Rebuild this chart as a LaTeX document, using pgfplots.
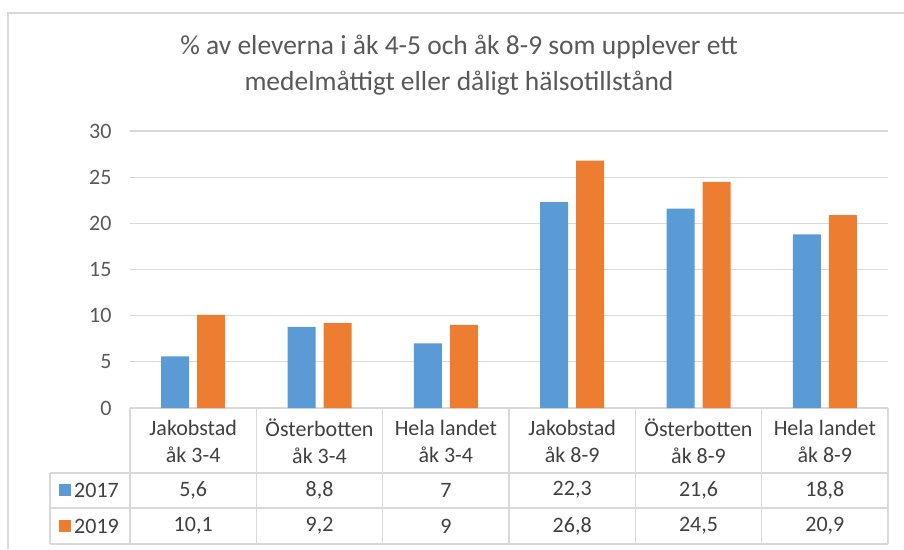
\documentclass[border=0pt]{standalone}
\usepackage{pgfplots}
\pgfplotsset{compat=1.18}
\usepackage{fontspec}
\setmainfont{Carlito}
\definecolor{cblue}{HTML}{5B9BD5}
\definecolor{corange}{HTML}{ED7D31}
\definecolor{gridc}{HTML}{D9D9D9}
\definecolor{tickc}{HTML}{595959}
\definecolor{textc}{HTML}{404040}
\begin{document}
\begin{tikzpicture}[x=1pt,y=1pt]
\draw[gridc, line width=1.2pt] (8,-549) -- (8,-13) -- (904,-13);
\node[text=tickc, font=\fontsize{27.5}{36}\selectfont, align=center] at (459,-65)
  {\% av eleverna i åk 4-5 och åk 8-9 som upplever ett\\medelmåttigt eller dåligt hälsotillstånd};
\begin{axis}[at={(130pt,-408pt)}, anchor=south west, scale only axis,
  width=758pt, height=277pt,
  ybar=8pt, bar width=28pt,
  xmin=-0.5, xmax=5.5, ymin=0, ymax=30,
  ytick={0,5,...,30},
  xtick={0,1,2,3,4,5},
  xticklabels={{Jakobstad\\åk 3-4},{Österbotten\\åk 3-4},{Hela landet\\åk 3-4},{Jakobstad\\åk 8-9},{Österbotten\\åk 8-9},{Hela landet\\åk 8-9}},
  axis line style={draw=none},
  major tick length=0pt,
  ymajorgrids, grid style={gridc, line width=1.2pt},
  /pgf/number format/assume math mode=true,
  yticklabel style={font=\fontsize{22}{25}\selectfont, text=tickc, xshift=-15pt},
  xticklabel style={font=\fontsize{22}{27}\selectfont, text=textc, align=center, anchor=center, yshift=-33pt},
  clip=false,
]
\addplot[fill=cblue, draw=none] coordinates {(0,5.6) (1,8.8) (2,7) (3,22.3) (4,21.6) (5,18.8)};
\addplot[fill=corange, draw=none] coordinates {(0,10.1) (1,9.2) (2,9) (3,26.8) (4,24.5) (5,20.9)};
\end{axis}
\draw[gridc, line width=1.2pt] (50,-473) -- (888,-473) (50,-508) -- (888,-508) (50,-544) -- (888,-544) (50,-473) -- (50,-544);
\foreach \x in {130,256.33,382.67,509,635.33,761.67,888} \draw[gridc, line width=1.2pt] (\x,-408) -- (\x,-544);
\fill[cblue] (59,-484) rectangle (71,-496);
\fill[corange] (59,-520) rectangle (71,-532);
\node[anchor=west, text=textc, font=\fontsize{22}{25}\selectfont, inner sep=0pt] at (74,-490) {2017};
\node[anchor=west, text=textc, font=\fontsize{22}{25}\selectfont, inner sep=0pt] at (74,-526) {2019};
\foreach \v [count=\i from 0] in {{5,6},{8,8},{7},{22,3},{21,6},{18,8}}
  \node[text=textc, font=\fontsize{22}{25}\selectfont] at (193.17+126.33*\i,-490) {\v};
\foreach \v [count=\i from 0] in {{10,1},{9,2},{9},{26,8},{24,5},{20,9}}
  \node[text=textc, font=\fontsize{22}{25}\selectfont] at (193.17+126.33*\i,-526) {\v};
\pgfresetboundingbox
\useasboundingbox (0,0) rectangle (904,-549);
\end{tikzpicture}
\end{document}
